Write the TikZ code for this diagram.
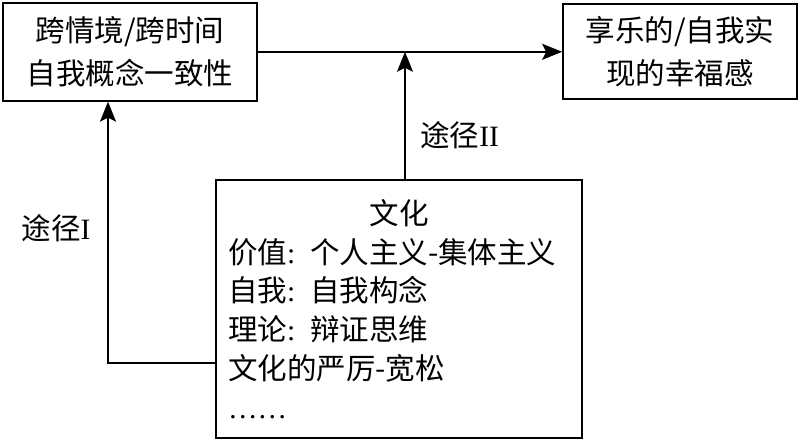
\documentclass[tikz,border=0pt]{standalone}
\usepackage{fontspec}
\setmainfont{Liberation Serif}
\newfontfamily\cjk{Noto Sans CJK SC}
\usetikzlibrary{arrows.meta}
\tikzset{
  box/.style={draw, line width=1.2pt, inner sep=0pt, align=center,
    font=\cjk\fontsize{21}{30.5}\selectfont},
  conn/.style={line width=1.2pt, -{Stealth[length=5mm,width=4mm,inset=1mm]}},
  tag/.style={font=\fontsize{21}{25}\selectfont}
}
\newcommand{\tcolon}{{\rmfamily:}}
\begin{document}
\begin{tikzpicture}
\useasboundingbox (0,0) rectangle (20,11.025);
% the three boxes
\node [box, minimum width=6.35cm, minimum height=2.45cm] (consist) at (3.25,9.73) {跨情境/跨时间\\自我概念一致性};
\node [box, minimum width=5.85cm, minimum height=2.375cm] (wellbeing) at (17.0,9.73) {享乐的/自我实\\现的幸福感};
\node [box, minimum width=9.15cm, minimum height=6.45cm, inner xsep=0.3cm, text width=8.55cm, align=left,
  font=\cjk\fontsize{21}{27.6}\selectfont] (culture) at (9.975,3.3)
  {\makebox[8.55cm]{文化}\\
   价值\tcolon{} 个人主义-集体主义\\
   自我\tcolon{} 自我构念\\
   理论\tcolon{} 辩证思维\\
   文化的严厉-宽松\\
   {\rmfamily ……}};
% paths
\coordinate (via2) at (10.125,0);
\coordinate (bend) at (2.7,1.95);
\draw [conn] (consist.east) -- (wellbeing.west);
\draw [conn] (culture.north -| via2) -- (via2 |- consist.east);
\draw [conn] (culture.west |- bend) -- (bend) -- (bend |- consist.south);
\node [tag] (pathtwo) at (11.49,7.65) {{\cjk 途径}II};
\node [tag] (pathone) at (1.4,5.325) {{\cjk 途径}I};
\end{tikzpicture}
\end{document}
